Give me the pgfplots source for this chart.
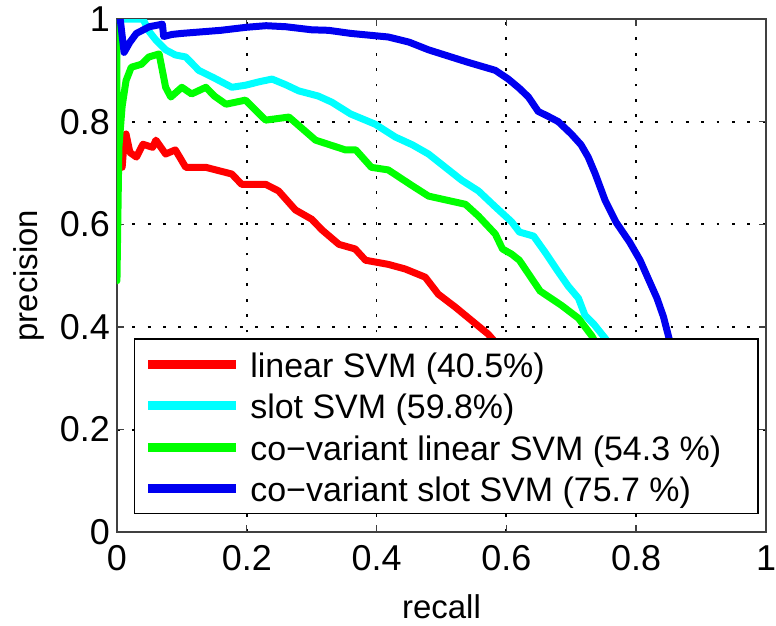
\documentclass[border=0pt]{standalone}
\usepackage{fontspec}
\setmainfont{Liberation Sans}
\usepackage{pgfplots}
\pgfplotsset{compat=1.18}
\definecolor{mred}{RGB}{255,0,0}
\definecolor{mcyan}{RGB}{0,255,255}
\definecolor{mgreen}{RGB}{0,255,0}
\definecolor{mblue}{RGB}{0,0,240}
\begin{document}
\begin{tikzpicture}
\begin{axis}[
  scale only axis,
  width=325pt, height=257pt,
  xmin=0, xmax=1, ymin=0, ymax=1,
  xtick={0,0.2,0.4,0.6,0.8,1},
  ytick={0,0.2,0.4,0.6,0.8,1},
  /pgf/number format/assume math mode=true,
  tick label style={font=\fontsize{18}{20}\selectfont},
  label style={font=\fontsize{16.5}{18}\selectfont},
  xlabel={recall}, ylabel={precision},
  xlabel style={at={(axis description cs:0.5,-0.146)},anchor=center},
  ylabel style={at={(axis description cs:-0.135,0.5)},anchor=center, inner ysep=7pt},
  tick align=inside,
  major tick length=3.5pt,
  axis line style={line width=1pt, black!75},
  every tick/.style={black!75, line width=0.7pt},
  grid=major,
  major grid style={black, line width=0.9pt, dash pattern=on 1.4pt off 6.3pt},
  xticklabel style={yshift=-3pt, inner xsep=0pt},
  yticklabel style={xshift=0pt},
  legend cell align=left,
  legend style={at={(axis description cs:0.026,0.035)}, anchor=south west,
    draw=black, line width=0.7pt, fill=white, font=\fontsize{17}{20}\selectfont,
    nodes={inner sep=0pt, text height=15pt, text depth=2pt},
    row sep=3.8pt, column sep=5pt, inner xsep=4.5pt, inner ysep=4pt},
  legend image code/.code={\draw[#1,line width=4.5pt,line cap=butt] (0pt,0pt) -- (44pt,0pt);},
  every axis plot/.append style={line width=3.5pt, line join=round, line cap=round},
]
\addplot[mred] coordinates {
(0.008,0.711) (0.011,0.76) (0.014,0.776) (0.02,0.74) (0.03,0.731) (0.04,0.756)
(0.055,0.75) (0.06,0.764) (0.075,0.737) (0.09,0.745) (0.106,0.711) (0.137,0.711)
(0.177,0.698) (0.192,0.678) (0.229,0.678) (0.249,0.665) (0.275,0.628) (0.3,0.61)
(0.316,0.589) (0.342,0.561) (0.367,0.552) (0.383,0.530) (0.418,0.522) (0.444,0.513)
(0.475,0.497) (0.495,0.464) (0.521,0.439) (0.546,0.413) (0.572,0.386) (0.59,0.36)
};
\addlegendentry{linear SVM (40.5\%)}
\addplot[mcyan] coordinates {
(0,1) (0.04,1) (0.05,0.975) (0.06,0.959) (0.075,0.94) (0.09,0.93) (0.106,0.926)
(0.126,0.90) (0.15,0.885) (0.177,0.867) (0.198,0.871) (0.22,0.878) (0.239,0.883)
(0.26,0.872) (0.28,0.86) (0.31,0.85) (0.331,0.838) (0.36,0.815) (0.398,0.795)
(0.429,0.77) (0.455,0.755) (0.48,0.737) (0.505,0.712) (0.531,0.686) (0.557,0.665)
(0.583,0.634) (0.608,0.605) (0.62,0.585) (0.642,0.577) (0.66,0.545) (0.678,0.511)
(0.695,0.48) (0.711,0.456) (0.721,0.423) (0.735,0.405) (0.754,0.375) (0.765,0.35)
};
\addlegendentry{slot SVM (59.8\%)}
\addplot[mgreen] coordinates {
(0,1) (0,0.49) (0.003,0.75) (0.008,0.83) (0.014,0.88) (0.022,0.906) (0.038,0.912)
(0.049,0.926) (0.065,0.932) (0.069,0.906) (0.075,0.867) (0.083,0.848) (0.1,0.867)
(0.115,0.854) (0.137,0.867) (0.15,0.85) (0.168,0.834) (0.198,0.842) (0.229,0.803)
(0.265,0.809) (0.306,0.764) (0.352,0.745) (0.368,0.745) (0.392,0.711) (0.418,0.706)
(0.454,0.676) (0.48,0.655) (0.537,0.639) (0.557,0.616) (0.583,0.581) (0.594,0.552)
(0.608,0.542) (0.62,0.530) (0.652,0.47) (0.685,0.442) (0.711,0.417) (0.732,0.382)
(0.745,0.35)
};
\addlegendentry{co\textminus variant linear SVM (54.3 \%)\hspace*{14pt}}
\addplot[mblue] coordinates {
(0,1) (0.005,1) (0.011,0.935) (0.02,0.955) (0.03,0.972) (0.05,0.985) (0.07,0.99)
(0.072,0.966) (0.085,0.97) (0.1,0.972) (0.13,0.975) (0.16,0.978) (0.2,0.984)
(0.23,0.987) (0.26,0.985) (0.3,0.979) (0.326,0.978) (0.36,0.972) (0.418,0.965)
(0.45,0.955) (0.48,0.94) (0.51,0.928) (0.54,0.916) (0.583,0.90) (0.603,0.883)
(0.62,0.865) (0.634,0.848) (0.649,0.82) (0.665,0.81) (0.68,0.80) (0.70,0.776)
(0.715,0.755) (0.726,0.731) (0.737,0.698) (0.752,0.647) (0.769,0.604) (0.79,0.565)
(0.806,0.530) (0.82,0.49) (0.832,0.456) (0.842,0.42) (0.851,0.376) (0.86,0.34)
};
\addlegendentry{co\textminus variant slot SVM (75.7 \%)}
\end{axis}
\end{tikzpicture}
\end{document}
